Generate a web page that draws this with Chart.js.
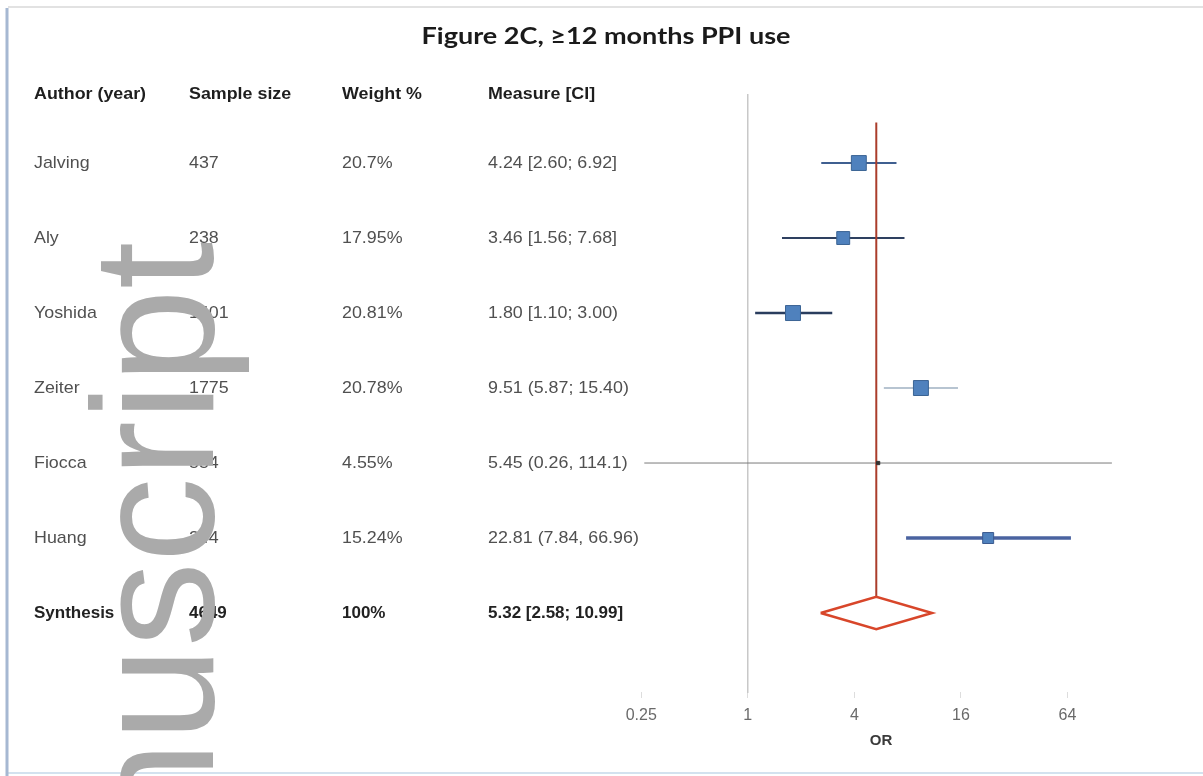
<!DOCTYPE html>
<html>
<head>
<meta charset="utf-8">
<title>Figure 2C, ≥12 months PPI use</title>
<script src="https://cdn.jsdelivr.net/npm/chart.js@4.4.1/dist/chart.umd.min.js"></script>
<style>
  html, body { margin: 0; padding: 0; background: #ffffff; }
  canvas { display: block; }
</style>
</head>
<body>
<canvas id="forest" width="1203" height="776"></canvas>
<script>
// ---- Study data ----
const studies     = ['Jalving', 'Aly', 'Yoshida', 'Zeiter', 'Fiocca', 'Huang'];
const sampleSizes = [437, 238, 1401, 1775, 554, 244];
const weightPct   = [20.7, 17.95, 20.81, 20.78, 4.55, 15.24];
const oddsRatio   = [4.24, 3.46, 1.80, 9.51, 5.45, 22.81];
const ciLow       = [2.60, 1.56, 1.10, 5.87, 0.26, 7.84];
const ciHigh      = [6.92, 7.68, 3.00, 15.40, 114.1, 66.96];

// ---- Pooled estimate ----
const pooledLabel  = 'Synthesis';
const pooledSample = 4649;
const pooledWeight = 100;
const pooledOR     = [5.32, 2.58, 10.99];   // estimate, lower, upper

// ---- Bracket style of each CI label (studies then pooled) ----
const ciOpen  = ['[', '[', '[', '(', '(', '(', '['];
const ciSep   = [';', ';', ';', ';', ',', ',', ';'];
const ciClose = [']', ']', ')', ')', ')', ')', ']'];

// ---- Axis ----
const orTicks     = [0.25, 1, 4, 16, 64];
const headers     = ['Author (year)', 'Sample size', 'Weight %', 'Measure [CI]'];
const chartTitle  = 'Figure 2C, \u226512 months PPI use';
const axisTitle   = 'OR';

// ---------------------------------------------------------------
const SANS = '"Liberation Sans", Arial, Helvetica, sans-serif';
const pooledRow = studies.length;
const fmt = v => (v >= 100 ? v.toFixed(1) : v.toFixed(2));
const measureText = i => {
  const [e, lo, hi] = i === pooledRow ? pooledOR : [oddsRatio[i], ciLow[i], ciHigh[i]];
  return fmt(e) + ' ' + ciOpen[i] + fmt(lo) + ciSep[i] + ' ' + fmt(hi) + ciClose[i];
};

const ciStyle = [
  { color: '#3f5f90', width: 2 },
  { color: '#2e4060', width: 2 },
  { color: '#2a3d5e', width: 2.5 },
  { color: '#9fb0c2', width: 1.5 },
  { color: '#7a7a7a', width: 1 },
  { color: '#4a63a0', width: 3.5 }
];
const markerFill   = ['#4f81bd', '#4f81bd', '#4f81bd', '#4f81bd', '#333333', '#4f81bd'];
const markerBorder = ['#3b6494', '#3b6494', '#3b6494', '#3b6494', '#333333', '#3b5a8f'];

const DIAMOND_H = 0.215;   // half height of the pooled diamond, in row units

const datasets = [];

// confidence intervals
studies.forEach((s, i) => {
  datasets.push({
    label: s + ' CI',
    data: [{ x: ciLow[i], y: i }, { x: ciHigh[i], y: i }],
    showLine: true,
    borderColor: ciStyle[i].color,
    borderWidth: ciStyle[i].width,
    pointRadius: 0,
    pointHoverRadius: 0,
    clip: false,
    order: 3
  });
});

// line of the pooled estimate
datasets.push({
  label: 'Pooled line',
  data: [{ x: pooledOR[0], y: -0.54 }, { x: pooledOR[0], y: pooledRow - DIAMOND_H }],
  showLine: true,
  borderColor: '#ab3d2b',
  borderWidth: 2,
  pointRadius: 0,
  clip: false,
  order: 2
});

// pooled diamond
datasets.push({
  label: 'Pooled',
  data: [
    { x: pooledOR[1], y: pooledRow },
    { x: pooledOR[0], y: pooledRow - DIAMOND_H },
    { x: pooledOR[2], y: pooledRow },
    { x: pooledOR[0], y: pooledRow + DIAMOND_H },
    { x: pooledOR[1], y: pooledRow }
  ],
  showLine: true,
  borderColor: '#d8462a',
  borderWidth: 2.5,
  borderJoinStyle: 'miter',
  pointRadius: 0,
  clip: false,
  order: 1
});

// study estimates, square size follows the weight
datasets.push({
  label: 'Estimates',
  data: oddsRatio.map((v, i) => ({ x: v, y: i })),
  pointStyle: 'rect',
  pointRadius: ctx => (weightPct[ctx.dataIndex] * 0.72) / Math.SQRT2,
  backgroundColor: markerFill,
  borderColor: markerBorder,
  borderWidth: 1,
  clip: false,
  order: 0
});

function drawText(ctx, text, x, y, font, color, sx, align) {
  ctx.save();
  ctx.font = font;
  ctx.fillStyle = color;
  ctx.textBaseline = 'middle';
  ctx.textAlign = align || 'left';
  ctx.translate(x, y);
  ctx.scale(sx, 1);
  ctx.fillText(text, 0, 0);
  ctx.restore();
}

const rowY = i => 163 + 75 * i;
const colX = [34, 189, 342, 488];

const pagePlugin = {
  id: 'page',
  beforeDraw(chart) {
    const ctx = chart.ctx;
    ctx.save();
    ctx.fillStyle = '#ffffff';
    ctx.fillRect(0, 0, chart.width, chart.height);
    // frame of the figure
    ctx.strokeStyle = '#e2e2e2';
    ctx.lineWidth = 2;
    ctx.beginPath(); ctx.moveTo(8, 7); ctx.lineTo(chart.width, 7); ctx.stroke();
    ctx.strokeStyle = '#d3e2ef';
    ctx.beginPath(); ctx.moveTo(8, 773); ctx.lineTo(chart.width, 773); ctx.stroke();
    ctx.strokeStyle = '#a6b8d2';
    ctx.lineWidth = 3;
    ctx.beginPath(); ctx.moveTo(7, 8); ctx.lineTo(7, chart.height); ctx.stroke();
    ctx.restore();
  },
  afterDraw(chart) {
    const ctx = chart.ctx;

    // title
    ctx.save();
    ctx.font = '700 23px Lato, "Open Sans", sans-serif';
    const tw = ctx.measureText(chartTitle).width;
    ctx.restore();
    drawText(ctx, chartTitle, 606, 37, '700 23px Lato, "Open Sans", sans-serif', '#1a1a1a', 369 / tw, 'center');

    // column headers
    headers.forEach((h, c) => drawText(ctx, h, colX[c], 94, 'bold 17px ' + SANS, '#1e1e1e', 1.05));

    // study rows
    studies.forEach((s, i) => {
      const y = rowY(i);
      const f = '17px ' + SANS;
      drawText(ctx, s, colX[0], y, f, '#505050', 1.05);
      drawText(ctx, String(sampleSizes[i]), colX[1], y, f, '#505050', 1.05);
      drawText(ctx, weightPct[i] + '%', colX[2], y, f, '#505050', 1.05);
      drawText(ctx, measureText(i), colX[3], y, f, '#505050', 1.05);
    });

    // pooled row
    const yp = rowY(pooledRow);
    const fb = 'bold 17px ' + SANS;
    drawText(ctx, pooledLabel, colX[0], yp, fb, '#222222', 1.0);
    drawText(ctx, String(pooledSample), colX[1], yp, fb, '#222222', 1.0);
    drawText(ctx, pooledWeight + '%', colX[2], yp, fb, '#222222', 1.0);
    drawText(ctx, measureText(pooledRow), colX[3], yp, fb, '#222222', 1.0);

    // vertical watermark
    ctx.save();
    ctx.fillStyle = '#aaaaaa';
    ctx.font = '173px ' + SANS;
    ctx.translate(213, 242);
    ctx.rotate(-Math.PI / 2);
    ctx.scale(0.98, 1);
    ctx.textAlign = 'right';
    ctx.textBaseline = 'alphabetic';
    ctx.fillText('manuscript', 0, 0);
    ctx.restore();
  }
};

new Chart(document.getElementById('forest'), {
  type: 'scatter',
  data: { datasets },
  options: {
    responsive: false,
    animation: false,
    events: [],
    layout: { padding: { left: 588, right: 29, top: 95, bottom: 24 } },
    plugins: { legend: { display: false }, tooltip: { enabled: false }, title: { display: false } },
    scales: {
      x: {
        type: 'logarithmic',
        position: 'bottom',
        min: 0.125,
        max: 256,
        afterBuildTicks: ax => { ax.ticks = orTicks.map(v => ({ value: v })); },
        afterFit: ax => { ax.height = 60; },
        ticks: {
          callback: v => String(v),
          autoSkip: false,
          maxRotation: 0,
          padding: 8,
          color: '#6a6a6a',
          font: { size: 16, family: SANS }
        },
        grid: { display: true, drawOnChartArea: false, drawTicks: true, tickLength: 6, color: '#dddddd' },
        border: { display: false },
        title: {
          display: true,
          text: axisTitle,
          color: '#3a3a3a',
          font: { size: 15, weight: 'bold', family: SANS },
          padding: { top: 4, bottom: 2 }
        }
      },
      y: {
        type: 'linear',
        position: { x: 1 },
        min: -0.907,
        max: 7.053,
        reverse: true,
        ticks: { display: false },
        grid: { display: false, drawTicks: false },
        border: { display: true, color: '#c8c8c8', width: 1.5 }
      }
    }
  },
  plugins: [pagePlugin]
});
</script>
</body>
</html>
